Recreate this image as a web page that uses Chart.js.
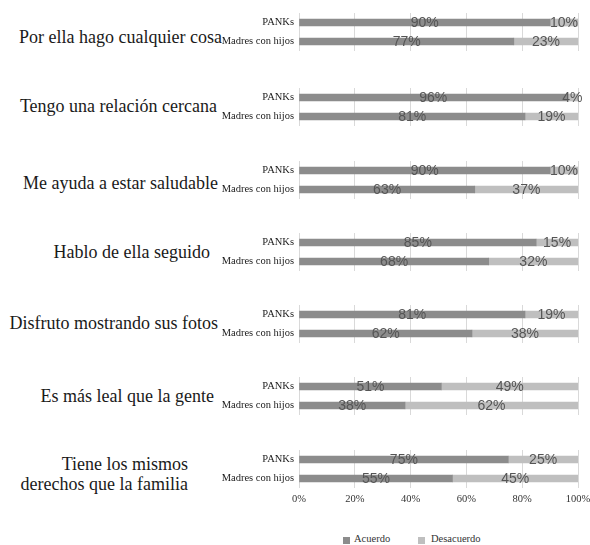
<!DOCTYPE html>
<html>
<head>
<meta charset="utf-8">
<script src="https://cdn.jsdelivr.net/npm/chart.js@4"></script>
<style>
  body { margin: 0; background: #fff; width: 590px; height: 545px; position: relative; overflow: hidden; }
  .panel { position: absolute; left: 200px; }
  .cat { position: absolute; font-family: "Liberation Serif", serif; font-size: 18px; line-height: 20px; color: #1a1a1a; text-align: right; white-space: nowrap; }
  .legend { position: absolute; top: 533px; left: 0; width: 590px; font-family: "Liberation Serif", serif; font-size: 10.5px; color: #333; }
  .legend span.box { position: absolute; width: 7px; height: 7px; top: 4px; }
  .legend span.txt { position: absolute; top: 0; }
</style>
</head>
<body>
<div id="root"></div>
<div class="legend">
  <span class="box" style="left:343px;background:#8c8c8c"></span><span class="txt" style="left:354px">Acuerdo</span>
  <span class="box" style="left:418px;background:#bfbfbf"></span><span class="txt" style="left:431px">Desacuerdo</span>
</div>
<script>
// Data
const categories = [
  'Por ella hago cualquier cosa',
  'Tengo una relación cercana',
  'Me ayuda a estar saludable',
  'Hablo de ella seguido',
  'Disfruto mostrando sus fotos',
  'Es más leal que la gente',
  'Tiene los mismos\nderechos que la familia'
];
const groups = ['PANKs', 'Madres con hijos'];
const acuerdoPanks = [90, 96, 90, 85, 81, 51, 75];
const acuerdoMadres = [77, 81, 63, 68, 62, 38, 55];
const desacuerdoPanks = [10, 4, 10, 15, 19, 49, 25];
const desacuerdoMadres = [23, 19, 37, 32, 38, 62, 45];
const xTicks = [0, 20, 40, 60, 80, 100];

// Layout (pixels)
const panelTops = [12.5, 88, 160.5, 233, 305, 376.5, 450];
const labelRight = [222, 217, 218, 210, 218, 214, 188];
const labelMid = [37, 106, 183, 252, 323, 396, 474];

const serif = '"Liberation Serif", serif';

// draws the percentages in the middle of each segment
const barText = {
  id: 'barText',
  afterDatasetsDraw(chart) {
    const ctx = chart.ctx;
    ctx.save();
    ctx.font = '14px "Liberation Sans", sans-serif';
    ctx.fillStyle = '#555';
    ctx.textAlign = 'center';
    ctx.textBaseline = 'middle';
    chart.data.datasets.forEach((ds, i) => {
      chart.getDatasetMeta(i).data.forEach((bar, j) => {
        const x = (bar.x + bar.base) / 2;
        ctx.fillText(ds.data[j] + '%', x, bar.y + 1);
      });
    });
    ctx.restore();
  }
};

const root = document.getElementById('root');

categories.forEach((cat, i) => {
  const last = i === categories.length - 1;

  const label = document.createElement('div');
  label.className = 'cat';
  const lines = cat.split('\n');
  label.innerHTML = lines.join('<br>');
  label.style.right = (590 - labelRight[i]) + 'px';
  label.style.top = (labelMid[i] - lines.length * 10) + 'px';
  root.appendChild(label);

  const wrap = document.createElement('div');
  wrap.className = 'panel';
  wrap.style.top = panelTops[i] + 'px';
  const canvas = document.createElement('canvas');
  canvas.width = 390;
  canvas.height = last ? 60 : 38;
  wrap.appendChild(canvas);
  root.appendChild(wrap);

  new Chart(canvas.getContext('2d'), {
    type: 'bar',
    data: {
      labels: groups,
      datasets: [
        {
          label: 'Acuerdo',
          data: [acuerdoPanks[i], acuerdoMadres[i]],
          backgroundColor: '#8c8c8c',
          barThickness: 7
        },
        {
          label: 'Desacuerdo',
          data: [desacuerdoPanks[i], desacuerdoMadres[i]],
          backgroundColor: '#bfbfbf',
          barThickness: 7
        }
      ]
    },
    options: {
      indexAxis: 'y',
      responsive: false,
      animation: false,
      layout: { padding: { left: 0, right: 12, top: 0, bottom: 0 } },
      plugins: { legend: { display: false }, tooltip: { enabled: false } },
      scales: {
        x: {
          stacked: true,
          min: 0,
          max: 100,
          afterBuildTicks: (scale) => { scale.ticks = xTicks.map(v => ({ value: v })); },
          grid: { color: '#d9d9d9', drawTicks: false },
          border: { display: false },
          ticks: {
            display: last,
            padding: 5,
            color: '#333',
            font: { family: serif, size: 10.5 },
            callback: (v) => v + '%'
          },
          afterFit: (scale) => {
            scale.height = last ? 22 : 0;
            scale.paddingLeft = 0;
            scale.paddingRight = 0;
          }
        },
        y: {
          stacked: true,
          grid: { display: false, drawTicks: false },
          border: { display: false },
          ticks: { autoSkip: false, padding: 5, color: '#1a1a1a', font: { family: serif, size: 10.5 } },
          afterFit: (scale) => {
            scale.width = 99;
            scale.paddingTop = 0;
            scale.paddingBottom = 0;
          }
        }
      }
    },
    plugins: [barText]
  });
});
</script>
</body>
</html>
